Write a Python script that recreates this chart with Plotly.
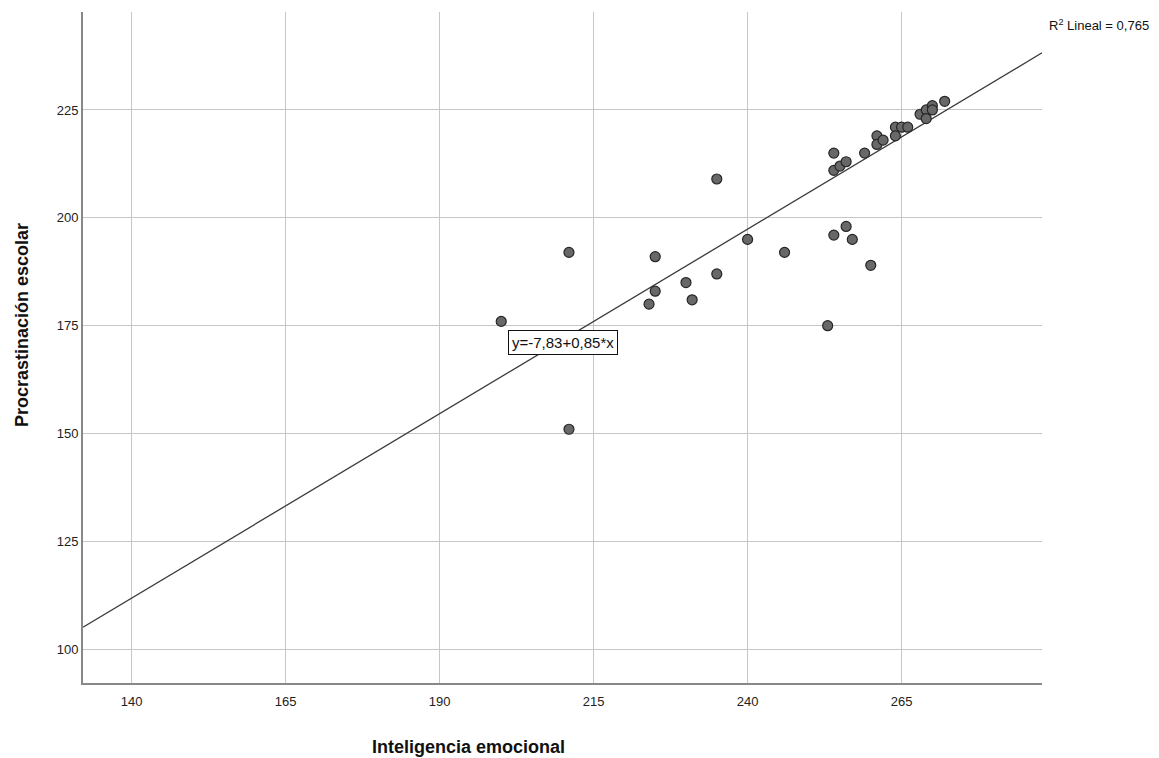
import plotly.graph_objects as go

# Data
inteligencia = [200, 211, 211, 224, 225, 225, 230, 231, 235, 235, 240, 246, 253, 254, 256, 257, 260,
                254, 254, 255, 256, 259, 261, 261, 262, 264, 264, 265, 266, 268, 269, 269, 270, 270, 272]
procrastinacion = [176, 192, 151, 180, 191, 183, 185, 181, 187, 209, 195, 192, 175, 196, 198, 195, 189,
                   215, 211, 212, 213, 215, 219, 217, 218, 221, 219, 221, 221, 224, 225, 223, 226, 225, 227]
intercept = -7.83
slope = 0.855
r2_text = "R<sup>2</sup> Lineal = 0,765"
eq_text = "y=-7,83+0,85*x"
x_title = "<b>Inteligencia emocional</b>"
y_title = "<b>Procrastinación escolar</b>"
x_ticks = [140, 165, 190, 215, 240, 265]
y_ticks = [100, 125, 150, 175, 200, 225]

x_range = [132.1, 287.8]
y_range = [92.2, 247.7]

line_x = x_range
line_y = [intercept + slope * v for v in line_x]

font_family = "Liberation Sans, Arial, sans-serif"

# figure geometry (page body has an 8px margin)
W, H = 1151, 750
ML, MR, MT, MB = 75, 117, 4, 75
OFF = 8
plot_l, plot_r, plot_t, plot_b = ML, W - MR, MT, H - MB


def px_to_paper(px, py):
    px -= OFF
    py -= OFF
    return (px - plot_l) / (plot_r - plot_l), (plot_b - py) / (plot_b - plot_t)


fig = go.Figure()
fig.add_trace(go.Scatter(x=line_x, y=line_y, mode="lines",
                         line=dict(color="#3a3a3a", width=1.3), hoverinfo="skip", showlegend=False))
fig.add_trace(go.Scatter(x=inteligencia, y=procrastinacion, mode="markers",
                         marker=dict(size=10, color="#686868", line=dict(color="#262626", width=1.2)),
                         showlegend=False))

r2x, r2y = px_to_paper(1099, 25)
xtx, xty = px_to_paper(468, 747)
ytx, yty = px_to_paper(22, 325)

fig.update_layout(
    width=W, height=H,
    margin=dict(l=ML, r=MR, t=MT, b=MB),
    paper_bgcolor="white", plot_bgcolor="white",
    font=dict(family=font_family, size=13, color="#222222"),
    xaxis=dict(range=x_range, tickvals=x_ticks, showgrid=True, gridcolor="#c6c6c6", gridwidth=1.3,
               zeroline=False, showline=True, linecolor="#888888", linewidth=2, ticks="",
               ticklabelstandoff=5, tickfont=dict(size=13, color="#222222")),
    yaxis=dict(range=y_range, tickvals=y_ticks, showgrid=True, gridcolor="#c6c6c6", gridwidth=1.3,
               zeroline=False, showline=True, linecolor="#888888", linewidth=2, ticks="",
               tickfont=dict(size=13, color="#222222")),
    annotations=[
        dict(x=210, y=171, xref="x", yref="y", text=eq_text, showarrow=False,
             font=dict(size=15, color="#111111", family=font_family),
             bgcolor="white", bordercolor="#111111", borderwidth=1, borderpad=3),
        dict(x=r2x, y=r2y, xref="paper", yref="paper", text=r2_text, showarrow=False,
             xanchor="center", yanchor="middle",
             font=dict(size=13, color="#111111", family=font_family)),
        dict(x=xtx, y=xty, xref="paper", yref="paper", text=x_title, showarrow=False,
             xanchor="center", yanchor="middle",
             font=dict(size=18, color="#111111", family=font_family)),
        dict(x=ytx, y=yty, xref="paper", yref="paper", text=y_title, showarrow=False,
             xanchor="center", yanchor="middle", textangle=-90,
             font=dict(size=18, color="#111111", family=font_family)),
    ],
)

fig.write_html("out.html")
